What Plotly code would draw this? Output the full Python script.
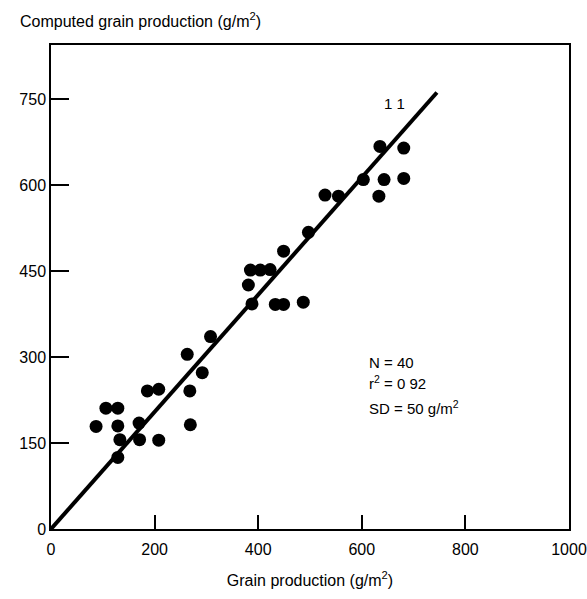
import plotly.graph_objects as go

# Observed points (grain production, computed grain production), g/m^2
obs_x = [87, 106, 129, 129, 133, 129, 170, 171, 186, 208, 208, 263, 292, 268, 269,
         308, 388, 381, 385, 404, 423, 433, 449, 487, 449, 497, 529, 555, 603, 643,
         633, 635, 681, 681]
obs_y = [179, 211, 211, 180, 156, 125, 185, 156, 241, 244, 155, 305, 273, 241, 182,
         336, 393, 426, 452, 452, 453, 392, 392, 396, 485, 518, 583, 581, 610, 610,
         581, 668, 665, 612]

# 1:1 line as drawn
line_x = [0, 745]
line_y = [0, 762]

x_ticks = [0, 200, 400, 600, 800, 1000]
y_ticks = [0, 150, 300, 450, 600, 750]

FONT = "Liberation Sans, Arial, Helvetica, sans-serif"

fig = go.Figure()
fig.add_trace(go.Scatter(x=line_x, y=line_y, mode="lines",
                         line=dict(color="black", width=4), showlegend=False,
                         hoverinfo="skip"))
fig.add_trace(go.Scatter(x=obs_x, y=obs_y, mode="markers",
                         marker=dict(color="black", size=13), showlegend=False))

fig.update_layout(
    width=587, height=599,
    margin=dict(l=51, r=18, t=45, b=70, autoexpand=False),
    paper_bgcolor="white", plot_bgcolor="white",
    font=dict(family=FONT, size=16, color="black"),
    xaxis=dict(range=[0, 1000], tickvals=x_ticks, ticks="inside", ticklen=14,
               tickwidth=1.5, tickcolor="black", showline=True, mirror=True,
               linecolor="black", linewidth=1.5, showgrid=False, zeroline=False,
               automargin=False, tickfont=dict(size=16), ticklabelstandoff=5,
               title=dict(text="Grain production (g/m<sup>2</sup>)", standoff=18,
                          font=dict(size=16))),
    yaxis=dict(range=[0, 845], tickvals=y_ticks, ticks="inside", ticklen=18,
               tickwidth=1.5, tickcolor="black", showline=True, mirror=True,
               linecolor="black", linewidth=1.5, showgrid=False, zeroline=False,
               automargin=False, tickfont=dict(size=16)),
    annotations=[
        dict(text="Computed grain production (g/m<sup>2</sup>)", xref="paper", yref="paper",
             x=-0.064, y=1.052, xanchor="left", yanchor="middle", showarrow=False,
             font=dict(size=16)),
        dict(text="1 1", x=664, y=743, xanchor="center", yanchor="middle",
             showarrow=False, font=dict(size=15)),
        dict(text="N = 40", x=610, y=290, xanchor="left", yanchor="middle",
             showarrow=False, font=dict(size=15)),
        dict(text="r<sup>2</sup> = 0 92", x=610, y=255, xanchor="left", yanchor="middle",
             showarrow=False, font=dict(size=15)),
        dict(text="SD = 50 g/m<sup>2</sup>", x=610, y=212, xanchor="left", yanchor="middle",
             showarrow=False, font=dict(size=15)),
    ],
)

fig.write_html(
    "out.html",
    config={"displayModeBar": False},
    post_script="document.body.style.margin='0';document.body.style.overflow='hidden';",
)
